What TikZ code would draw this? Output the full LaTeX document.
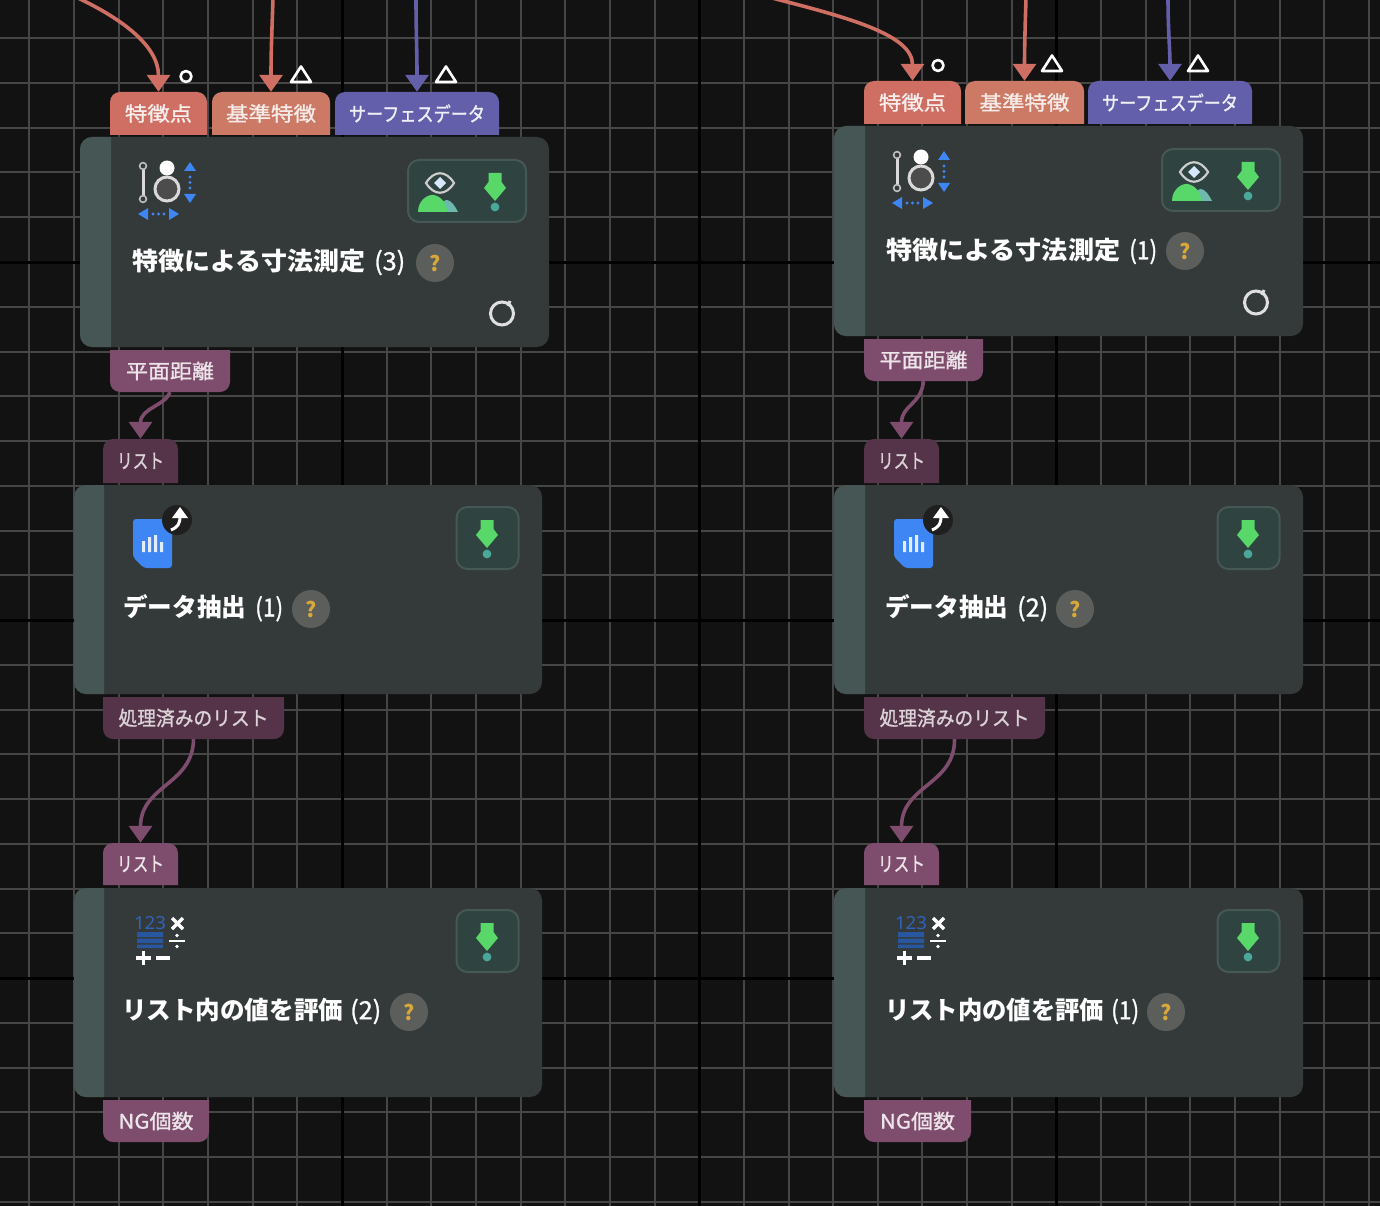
\documentclass[tikz,border=0pt]{standalone}
\usepackage{fontspec}
\usepackage{graphicx}
\usetikzlibrary{arrows.meta,calc}
\newfontfamily\jpfont{Noto Sans CJK JP}
\newfontfamily\jpmed[FakeBold=1.2]{Noto Sans CJK JP}
\definecolor{bgcol}{HTML}{121212}
\definecolor{gridcol}{HTML}{464646}
\definecolor{blockcol}{HTML}{343A3A}
\definecolor{stripecol}{HTML}{465654}
\definecolor{redcol}{HTML}{CF6F63}
\definecolor{salmoncol}{HTML}{CC7A66}
\definecolor{bluecol}{HTML}{635FAB}
\definecolor{plumcol}{HTML}{7E4C6C}
\definecolor{dimcol}{HTML}{55344A}
\definecolor{panelcol}{HTML}{2F4340}
\definecolor{paneledge}{HTML}{465854}
\definecolor{greencol}{HTML}{58D868}
\definecolor{tealcol}{HTML}{4AA89A}
\definecolor{icoblue}{HTML}{3F86F5}
\definecolor{helpcol}{HTML}{5C5E5C}
\definecolor{qcol}{HTML}{D9A83A}
\tikzset{
  minorgrid/.style={gridcol,line width=2pt},
  majorgrid/.style={black,line width=3pt},
  blockbox/.style={fill=blockcol,rounded corners=12pt,inner sep=0pt},
  stripebar/.style={fill=stripecol},
  porttext/.style={inner sep=0pt,text=#1},
  wire/.style={line width=3.6pt,draw=#1,-{Triangle[length=17pt,width=23pt,fill=#1]}},
  panelbox/.style={fill=panelcol,draw=paneledge,line width=2pt,rounded corners=11pt,inner sep=0pt},
  helpdot/.style={circle,fill=helpcol,minimum size=38pt,inner sep=0pt,text=qcol,font=\jpfont\bfseries\fontsize{21}{24}\selectfont},
  titletext/.style={anchor=west,inner sep=0pt,text=white,font=\jpfont\fontsize{25}{30}\selectfont},
  warnmark/.style={draw=white,line width=2.6pt,line join=round},
  whiteline/.style={draw=white,line width=2.4pt},
  refreshmark/.style={draw=white!88!black,line width=3pt},
}
% name, x1, y1, x2, y2, fill colour, text colour, text width, text
\newcommand\portT[9]{%
  \fill[#6] (#2,#5) [rounded corners=10pt] -- (#2,#3) -- (#4,#3) [sharp corners] -- (#4,#5) -- cycle;
  \pgfmathsetmacro\pw{#4-#2}\pgfmathsetmacro\ph{#5-#3}%
  \node[porttext=#7,minimum width=\pw pt,minimum height=\ph pt] (#1) at ($(#2,#3)!0.5!(#4,#5)$)
    {\resizebox{#8pt}{\height}{\jpmed\fontsize{20}{24}\selectfont #9}};}
\newcommand\portB[9]{%
  \fill[#6] (#2,#3) [rounded corners=10pt] -- (#2,#5) -- (#4,#5) [sharp corners] -- (#4,#3) -- cycle;
  \pgfmathsetmacro\pw{#4-#2}\pgfmathsetmacro\ph{#5-#3}%
  \node[porttext=#7,minimum width=\pw pt,minimum height=\ph pt] (#1) at ($(#2,#3)!0.5!(#4,#5)$)
    {\resizebox{#8pt}{\height}{\jpmed\fontsize{20}{24}\selectfont #9}};}
% name, x1, y1, x2, y2, stripe right edge
\newcommand\blockshape[6]{%
  \pgfmathsetmacro\pw{#4-#2}\pgfmathsetmacro\ph{#5-#3}%
  \node[blockbox,minimum width=\pw pt,minimum height=\ph pt] (#1) at ($(#2,#3)!0.5!(#4,#5)$) {};
  \fill[stripebar] (#6,#3) [rounded corners=12pt] -- (#2,#3) -- (#2,#5) [sharp corners] -- (#6,#5) -- cycle;}
\newcommand\dlicon{%
  \fill[greencol] (-6.5,0) -- (6.5,0) -- (6.5,9) -- (11,15) -- (0,28) -- (-11,15) -- (-6.5,9) -- cycle;
  \fill[tealcol] (0,34) circle (4.4);}
\newcommand\measureicon{%
  \draw[draw=white!85!black,line width=3pt] (143,167) -- (143,197);
  \draw[draw=white!75!black,fill=blockcol,line width=1.6pt] (143,166) circle (3.4) (143,199) circle (3.4);
  \fill[white] (167,168) circle (7.5);
  \draw[draw=white!85!black,fill=black!70!white,line width=3pt] (167,189) circle (12);
  \fill[icoblue] (190,162) -- (196,171) -- (184,171) -- cycle (190,203) -- (196,194) -- (184,194) -- cycle;
  \fill[icoblue] (190,177) circle (1.7) (190,182.5) circle (1.7) (190,188) circle (1.7);
  \fill[icoblue] (138,214) -- (148,208) -- (148,220) -- cycle (179,214) -- (169,208) -- (169,220) -- cycle;
  \fill[icoblue] (153,214) circle (1.7) (158.5,214) circle (1.7) (164,214) circle (1.7);}
\newcommand\eyeicon{%
  \draw[draw=white!80!black,line width=2.2pt] (426,183) .. controls (434,170) and (446,170) .. (454,183) .. controls (446,196) and (434,196) .. (426,183) -- cycle;
  \fill[white!80!icoblue] (440,177) -- (446,183) -- (440,189) -- (434,183) -- cycle;
  \fill[tealcol!80!white] (440,212) .. controls (442,196) and (450,196) .. (458,212) -- cycle;
  \fill[greencol] (418,212) .. controls (418,200) and (428,194) .. (434,195) .. controls (442,197) and (447,204) .. (447,212) -- cycle;}
\newcommand\docicon{%
  \fill[icoblue,rounded corners=3pt] (133,519) -- (172,519) -- (172,568) -- (144,568) -- (133,557) -- cycle;
  \fill[blockcol] (133,558) -- (143,568) -- (135,568) -- (133,566) -- cycle;
  \fill[white!85!icoblue] (142,541) rectangle (145,552) (148,537) rectangle (151,552) (154,535) rectangle (157,552) (160,542) rectangle (163,552);
  \fill[black!88!white] (177,520) circle (15);
  \draw[draw=white,line width=3pt] (171,530) .. controls (178,527) and (180,524) .. (180,516);
  \fill[white] (180,507) -- (188,518) -- (172,518) -- cycle;}
\newcommand\calcicon[1]{%
  \node[inner sep=0pt,text=icoblue!75!black,font=\fontspec{Noto Sans}\fontsize{18}{20}\selectfont] (#1) at (150,923) {\resizebox{32pt}{\height}{123}};
  \fill[icoblue!65!black] (137,932) rectangle (163,937) (137,938.5) rectangle (163,943) (137,944.5) rectangle (163,948);
  \draw[whiteline,line width=3.4pt] (172,918) -- (183,929) (183,918) -- (172,929);
  \draw[whiteline,line width=2pt] (169,941) -- (185,941);
  \fill[white] (177,935.5) circle (1.8) (177,946.5) circle (1.8);
  \draw[whiteline,line width=3.4pt] (136,958) -- (151,958) (143.5,951) -- (143.5,965) (156,958) -- (170,958);}
\begin{document}
\begin{tikzpicture}[x=1pt,y=-1pt]
\useasboundingbox (0,0) rectangle (1380,1206);
\clip (0,0) rectangle (1380,1206);
\fill[bgcol] (0,0) rectangle (1380,1206);
% grid
\foreach \k in {-7,...,23}{\draw[minorgrid] ({342+44.65*\k},0) -- ({342+44.65*\k},1206);}
\foreach \k in {-5,...,21}{\draw[minorgrid] (0,{262+44.75*\k}) -- (1380,{262+44.75*\k});}
\foreach \x in {342,699,1056}{\draw[majorgrid] (\x,0) -- (\x,1206);}
\foreach \y in {262,620,978}{\draw[majorgrid] (0,\y) -- (1380,\y);}
% free ends
\coordinate (la) at (78,-2); \coordinate (lb) at (273,-2); \coordinate (lc) at (416,-2);
\coordinate (ra) at (772,-2); \coordinate (rb) at (1026,-2); \coordinate (rc) at (1168,-2);
% left column
\blockshape{bA}{80}{137}{549}{347}{111}
\blockshape{bB}{74}{485}{542}{694}{104}
\blockshape{bC}{74}{888}{542}{1097}{104}
\portT{pA}{110}{92}{207}{135}{redcol}{white!88!redcol}{67}{特徴点}
\portT{pB}{212}{92}{330}{135}{salmoncol}{white!85!salmoncol}{90}{基準特徴}
\portT{pC}{335}{92}{499}{135}{bluecol}{white!90!bluecol}{136}{サーフェスデータ}
\portB{pD}{110}{350}{230}{392}{plumcol}{white!85!plumcol}{88}{平面距離}
\portT{pE}{103}{439}{178}{483}{dimcol}{white!78!dimcol}{47}{リスト}
\portB{pF}{103}{697}{284}{739}{dimcol}{white!78!dimcol}{150}{処理済みのリスト}
\portT{pG}{103}{843}{178}{885}{plumcol}{white!85!plumcol}{47}{リスト}
\portB{pH}{103}{1100}{209}{1142}{plumcol}{white!85!plumcol}{75}{NG個数}
% right column
\blockshape{bD}{834}{126}{1303}{336}{865}
\blockshape{bE}{834}{485}{1303}{694}{865}
\blockshape{bF}{834}{888}{1303}{1097}{865}
\portT{qA}{864}{81}{961}{124}{redcol}{white!88!redcol}{67}{特徴点}
\portT{qB}{965}{81}{1084}{124}{salmoncol}{white!85!salmoncol}{90}{基準特徴}
\portT{qC}{1088}{81}{1252}{124}{bluecol}{white!90!bluecol}{136}{サーフェスデータ}
\portB{qD}{864}{339}{983}{381}{plumcol}{white!85!plumcol}{88}{平面距離}
\portT{qE}{864}{439}{939}{483}{dimcol}{white!78!dimcol}{47}{リスト}
\portB{qF}{864}{697}{1045}{739}{dimcol}{white!78!dimcol}{150}{処理済みのリスト}
\portT{qG}{864}{843}{939}{885}{plumcol}{white!85!plumcol}{47}{リスト}
\portB{qH}{864}{1100}{971}{1142}{plumcol}{white!85!plumcol}{75}{NG個数}
% connectors
\draw[wire=redcol] (la) .. controls (120,18) and (158.5,45) .. (pA.north);
\draw[wire=redcol] (lb) .. controls (272,30) and (271,50) .. (pB.north);
\draw[wire=bluecol] (lc) .. controls (416,30) and (417,50) .. (pC.north);
\draw[wire=plumcol] (pD.south) .. controls (165,406) and (140.5,408) .. (pE.north);
\draw[wire=plumcol] (pF.south) .. controls (193,785) and (140.5,785) .. (pG.north);
\draw[wire=redcol] (ra) .. controls (850,18) and (912.5,35) .. (qA.north);
\draw[wire=redcol] (rb) .. controls (1025,30) and (1024.5,50) .. (qB.north);
\draw[wire=bluecol] (rc) .. controls (1168,30) and (1170,50) .. (qC.north);
\draw[wire=plumcol] (qD.south) .. controls (921,405) and (901.5,405) .. (qE.north);
\draw[wire=plumcol] (qF.south) .. controls (955,785) and (901.5,785) .. (qG.north);
% warning marks
\draw[warnmark] (186,76.5) circle (5.5);
\draw[warnmark] (301,66.5) -- (311,82) -- (291,82) -- cycle;
\draw[warnmark] (446,66.5) -- (456,82) -- (436,82) -- cycle;
\draw[warnmark] (938,65.5) circle (5.5);
\draw[warnmark] (1052,55.5) -- (1062,71) -- (1042,71) -- cycle;
\draw[warnmark] (1198,55.5) -- (1208,71) -- (1188,71) -- cycle;
% panels
\node[panelbox,minimum width=118pt,minimum height=62pt] (panA) at (467,191) {};
\node[panelbox,minimum width=118pt,minimum height=62pt] (panD) at (1221,180) {};
\node[panelbox,minimum width=62pt,minimum height=62pt] (panB) at (487.5,538) {};
\node[panelbox,minimum width=62pt,minimum height=62pt] (panE) at (1248.5,538) {};
\node[panelbox,minimum width=62pt,minimum height=62pt] (panC) at (487.5,941) {};
\node[panelbox,minimum width=62pt,minimum height=62pt] (panF) at (1248.5,941) {};
\begin{scope}[shift={(495,173)}]\dlicon\end{scope}
\begin{scope}[shift={(1248,162)}]\dlicon\end{scope}
\begin{scope}[shift={(487,520)}]\dlicon\end{scope}
\begin{scope}[shift={(1248,520)}]\dlicon\end{scope}
\begin{scope}[shift={(487,923)}]\dlicon\end{scope}
\begin{scope}[shift={(1248,923)}]\dlicon\end{scope}
% icons
\measureicon \eyeicon
\begin{scope}[shift={(754,-11)}]\measureicon \eyeicon\end{scope}
\docicon
\begin{scope}[shift={(761,0)}]\docicon\end{scope}
\calcicon{nA}
\begin{scope}[shift={(761,0)}]\calcicon{nB}\end{scope}
% titles
\node[titletext] (tA) at (132,262) {\resizebox{233pt}{\height}{\bfseries 特徴による寸法測定}\hspace{9pt}\resizebox{31pt}{\height}{\jpmed (3)}};
\node[titletext] (tB) at (123,608) {\resizebox{123pt}{\height}{\bfseries データ抽出}\hspace{9pt}\resizebox{28pt}{\height}{\jpmed (1)}};
\node[titletext] (tC) at (122,1011) {\resizebox{221pt}{\height}{\bfseries リスト内の値を評価}\hspace{7pt}\resizebox{31pt}{\height}{\jpmed (2)}};
\node[titletext] (tD) at (886,251) {\resizebox{234pt}{\height}{\bfseries 特徴による寸法測定}\hspace{9pt}\resizebox{28pt}{\height}{\jpmed (1)}};
\node[titletext] (tE) at (885,608) {\resizebox{123pt}{\height}{\bfseries データ抽出}\hspace{9pt}\resizebox{31pt}{\height}{\jpmed (2)}};
\node[titletext] (tF) at (885,1011) {\resizebox{219pt}{\height}{\bfseries リスト内の値を評価}\hspace{7pt}\resizebox{28pt}{\height}{\jpmed (1)}};
% help marks
\node[helpdot] (hA) at (435,263) {?};
\node[helpdot] (hB) at (311,609) {?};
\node[helpdot] (hC) at (409,1012) {?};
\node[helpdot] (hD) at (1185,251) {?};
\node[helpdot] (hE) at (1075,609) {?};
\node[helpdot] (hF) at (1166,1012) {?};
% refresh marks
\draw[refreshmark] (502,313.5) circle (11.5);
\draw[refreshmark] (510,301) -- (508,306);
\draw[refreshmark] (1256,302.5) circle (11.5);
\draw[refreshmark] (1264,290) -- (1262,295);
\end{tikzpicture}
\end{document}
